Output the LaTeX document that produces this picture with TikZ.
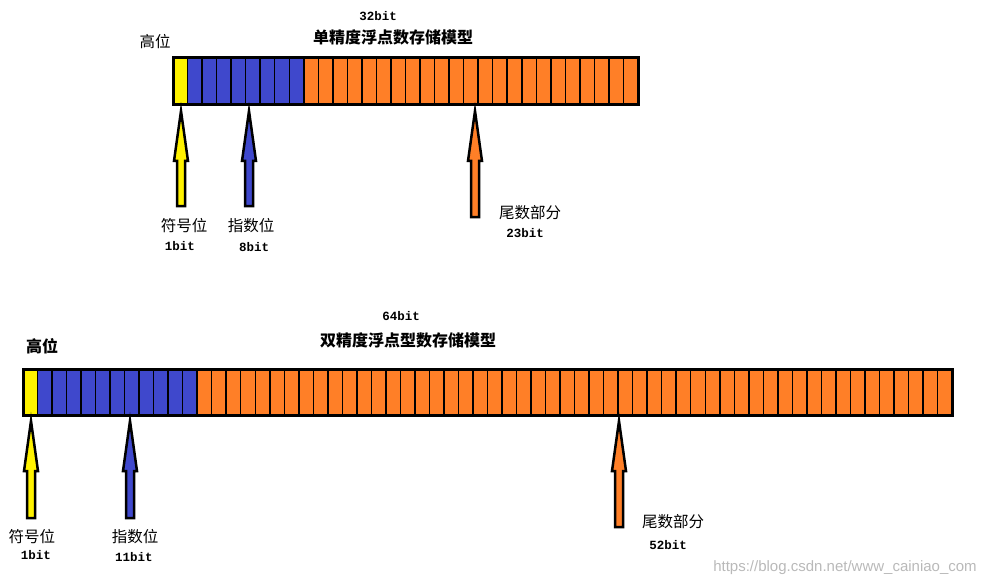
\documentclass[tikz,border=0pt]{standalone}
\usepackage{fontspec}
\newfontfamily\cjk{Noto Sans CJK SC}
\newfontfamily\mono{Liberation Mono}
\definecolor{cy}{HTML}{FFF200}
\definecolor{cb}{HTML}{3F48CC}
\definecolor{co}{HTML}{FF7F27}
\newcommand\myarrow[4]{% color, x, tip y, bottom y
  \filldraw[fill=#1,draw=black,line width=2.5pt,line join=miter]
    (#2,#3) -- (#2+7,#3+50) -- (#2+4,#3+50) -- (#2+4,#4) -- (#2-4,#4) -- (#2-4,#3+50) -- (#2-7,#3+50) -- cycle;}
\begin{document}
\begin{tikzpicture}[x=1pt,y=-1pt,
  cn/.style={font=\cjk\fontsize{15.5}{18}\selectfont,inner sep=0pt},
  cb/.style={font=\cjk\bfseries\fontsize{16}{18}\selectfont,inner sep=0pt},
  bt/.style={font=\mono\bfseries\fontsize{12.5}{14}\selectfont,inner sep=0pt}]
\useasboundingbox (0,0) rectangle (995,588);
% top bar
\foreach \i in {0,...,31}{
  \pgfmathsetmacro\xa{173+\i*14.531}
  \pgfmathsetmacro\xb{173+(\i+1)*14.531}
  \ifnum\i=0 \def\c{cy}\else\ifnum\i<9 \def\c{cb}\else\def\c{co}\fi\fi
  \filldraw[fill=\c,draw=black,line width=1.5pt] (\xa,58) rectangle (\xb,105);}
\draw[line width=3pt] (173,58) rectangle (638,105);
% bottom bar
\foreach \i in {0,...,63}{
  \pgfmathsetmacro\xa{23+\i*14.516}
  \pgfmathsetmacro\xb{23+(\i+1)*14.516}
  \ifnum\i=0 \def\c{cy}\else\ifnum\i<12 \def\c{cb}\else\def\c{co}\fi\fi
  \filldraw[fill=\c,draw=black,line width=1.5pt] (\xa,369) rectangle (\xb,415);}
\draw[line width=3pt] (23,369) rectangle (952,415);
% arrows
\myarrow{cy}{181}{111}{206}
\myarrow{cb}{249}{111}{206}
\myarrow{co}{475}{111}{217}
\myarrow{cy}{31}{421}{518}
\myarrow{cb}{130}{421}{518}
\myarrow{co}{619}{421}{527}
% labels
\node[bt] (t1) at (378,16) {32bit};
\node[cb] (t2) at (393,37) {单精度浮点数存储模型};
\node[cn] (h1) at (155,42) {高位};
\node[cn] (a1) at (184,226) {符号位};
\node[bt] (a2) at (180,246) {1bit};
\node[cn] (b1) at (251,226) {指数位};
\node[bt] (b2) at (254,247) {8bit};
\node[cn] (c1) at (530,213) {尾数部分};
\node[bt] (c2) at (525,233) {23bit};
\node[bt] (u1) at (401,316) {64bit};
\node[cb] (u2) at (408,340) {双精度浮点型数存储模型};
\node[cb] (h2) at (42,346) {高位};
\node[cn] (d1) at (32,537) {符号位};
\node[bt] (d2) at (36,555) {1bit};
\node[cn] (e1) at (135,537) {指数位};
\node[bt] (e2) at (134,557) {11bit};
\node[cn] (f1) at (673,522) {尾数部分};
\node[bt] (f2) at (668,545) {52bit};
\node[font=\fontspec{Liberation Sans}\fontsize{15}{17}\selectfont,text=gray!55,inner sep=0pt] (w) at (845,568) {https://blog.csdn.net/www\_cainiao\_com};
\end{tikzpicture}
\end{document}
